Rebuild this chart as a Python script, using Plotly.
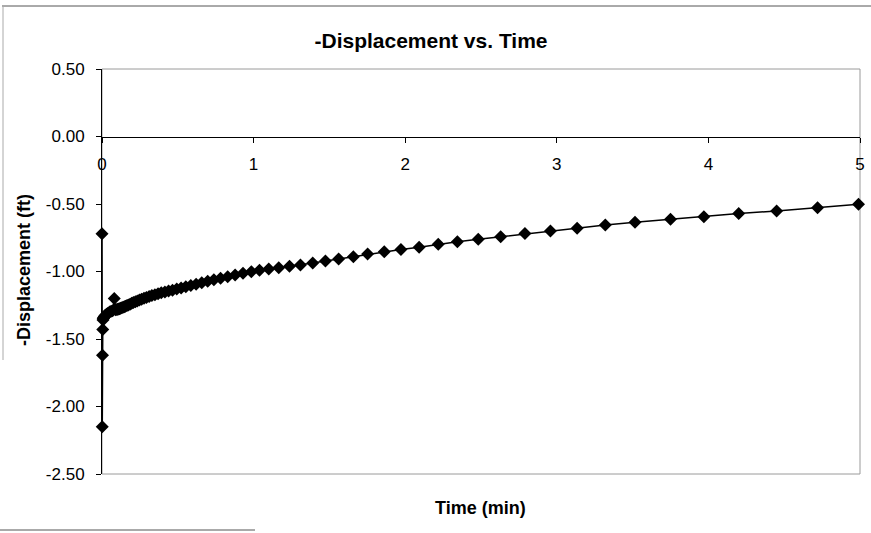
import plotly.graph_objects as go

# Time (min) and -Displacement (ft)
time_min = [
    0.0, 0.0017, 0.0033, 0.005, 0.0067,
    0.008, 0.010, 0.012, 0.015, 0.018, 0.022, 0.027, 0.033, 0.040, 0.050,
    0.060, 0.070, 0.081, 0.090, 0.098,
    0.104, 0.110, 0.116, 0.123, 0.131, 0.139, 0.147, 0.155, 0.165, 0.174,
    0.185, 0.196, 0.207, 0.220, 0.233, 0.247, 0.261, 0.277, 0.293, 0.311,
    0.329, 0.349, 0.370, 0.391, 0.415, 0.439, 0.465, 0.493, 0.522, 0.553,
    0.586, 0.621, 0.658, 0.697, 0.738, 0.782, 0.829, 0.878, 0.930, 0.985,
    1.039, 1.100, 1.166, 1.237, 1.309, 1.390, 1.474, 1.561, 1.658, 1.752,
    1.862, 1.972, 2.092, 2.218, 2.344, 2.482, 2.630, 2.790, 2.958, 3.134,
    3.320, 3.516, 3.750, 3.970, 4.200, 4.450, 4.720, 4.990,
]
neg_displacement_ft = [
    -0.72, -2.15, -1.62, -1.43, -1.36,
    -1.350, -1.345, -1.340, -1.335, -1.330, -1.325, -1.320, -1.315, -1.310, -1.300,
    -1.295, -1.290, -1.200, -1.284, -1.281,
    -1.279, -1.277, -1.275, -1.272, -1.268, -1.265, -1.261, -1.257, -1.252, -1.248,
    -1.242, -1.236, -1.230, -1.224, -1.218, -1.212, -1.206, -1.199, -1.192, -1.185,
    -1.178, -1.172, -1.165, -1.158, -1.151, -1.145, -1.138, -1.130, -1.122, -1.113,
    -1.104, -1.095, -1.084, -1.073, -1.062, -1.050, -1.038, -1.026, -1.013, -1.001,
    -0.990, -0.981, -0.972, -0.962, -0.951, -0.937, -0.922, -0.907, -0.891, -0.870,
    -0.854, -0.837, -0.820, -0.798, -0.779, -0.761, -0.742, -0.719, -0.700, -0.680,
    -0.656, -0.636, -0.613, -0.594, -0.570, -0.552, -0.527, -0.502,
]

x_tick_vals = [0, 1, 2, 3, 4, 5]
x_tick_text = ["0", "1", "2", "3", "4", "5"]
y_tick_vals = [-2.5, -2.0, -1.5, -1.0, -0.5, 0.0, 0.5]
y_tick_text = ["-2.50", "-2.00", "-1.50", "-1.00", "-0.50", "0.00", "0.50"]

FONT = "Liberation Sans, Arial, sans-serif"

# plot area in pixels
L, R, T, B = 102, 860, 69, 474
W, H = 871, 533
PW, PH = R - L, B - T


def px(xp):
    return (xp - L) / PW


def py(yp):
    return (B - yp) / PH


fig = go.Figure()
fig.add_trace(go.Scatter(
    x=time_min, y=neg_displacement_ft, mode="lines+markers",
    line=dict(color="black", width=1.5),
    marker=dict(symbol="diamond", size=10, color="black"),
    showlegend=False, cliponaxis=False,
))

y_min, y_max = -2.5, 0.5
fig.update_layout(
    width=W, height=H,
    margin=dict(l=L, r=W - R, t=T, b=H - B, autoexpand=False),
    paper_bgcolor="white", plot_bgcolor="white",
    font=dict(family=FONT, color="black", size=17),
    title=dict(text="<b>-Displacement vs. Time</b>", x=px(431), xref="paper",
               xanchor="center", y=1 - 41 / H, yanchor="middle",
               font=dict(size=21, family=FONT)),
    xaxis=dict(range=[0, 5], tickvals=x_tick_vals, ticktext=x_tick_text,
               anchor="free", position=(0 - y_min) / (y_max - y_min),
               showline=True, linecolor="black", linewidth=1,
               ticks="outside", ticklen=5, tickcolor="black",
               ticklabelstandoff=7,
               showgrid=False, zeroline=False,
               tickfont=dict(size=17, family=FONT)),
    yaxis=dict(range=[y_min, y_max], tickvals=y_tick_vals, ticktext=y_tick_text,
               showline=True, linecolor="black", linewidth=1,
               ticks="outside", ticklen=5, tickcolor="black",
               ticklabelstandoff=8, automargin=False,
               showgrid=False, zeroline=False,
               tickfont=dict(size=17, family=FONT)),
)

# Plot-area border (light) and chart-area border remnants
fig.add_shape(type="rect", xref="paper", yref="paper", x0=0, x1=1, y0=0, y1=1,
              line=dict(color="#9a9a9a", width=1), layer="below")
fig.add_shape(type="line", xref="paper", yref="paper", x0=px(2), x1=px(871),
              y0=py(6), y1=py(6), line=dict(color="#555555", width=1))
fig.add_shape(type="line", xref="paper", yref="paper", x0=px(3), x1=px(3),
              y0=py(6), y1=py(360), line=dict(color="#aaaaaa", width=1))
fig.add_shape(type="line", xref="paper", yref="paper", x0=px(0), x1=px(255),
              y0=py(530), y1=py(530), line=dict(color="#555555", width=1))

fig.add_annotation(text="<b>Time (min)</b>", xref="paper", yref="paper",
                   x=px(480), y=py(508), showarrow=False,
                   xanchor="center", yanchor="middle", font=dict(size=18, family=FONT))
fig.add_annotation(text="<b>-Displacement (ft)</b>", xref="paper", yref="paper",
                   x=px(24), y=py(270), showarrow=False, textangle=-90,
                   xanchor="center", yanchor="middle", font=dict(size=18, family=FONT))

fig.write_html("out.html", config={"displayModeBar": False},
               post_script="document.body.style.margin='0';")
